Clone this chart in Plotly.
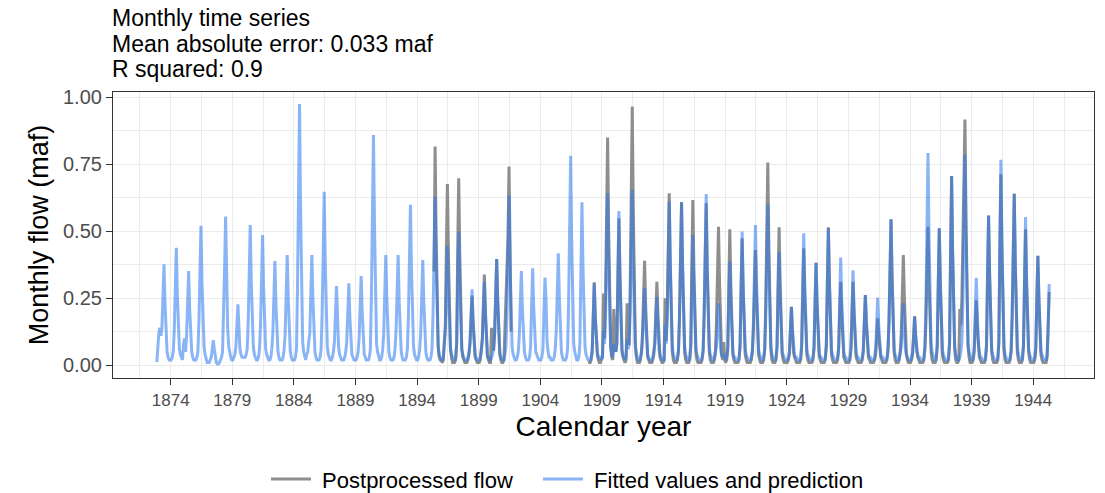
import plotly.graph_objects as go

# ---------------- data (monthly, maf) ----------------
start_year, start_month = 1872, 11   # first month of the series (Nov 1872)

# Fitted values and prediction, one row per calendar year (Jan..Dec)
fitted_flow = [
    0.012, 0.09,                                                                 # 1872 (Nov-Dec)
    0.12, 0.14, 0.11, 0.14, 0.25, 0.377, 0.23, 0.09, 0.05, 0.03, 0.02, 0.02,    # 1873
    0.02, 0.03, 0.05, 0.13, 0.29, 0.439, 0.26, 0.11, 0.06, 0.04, 0.03, 0.02,    # 1874
    0.08, 0.10, 0.05, 0.11, 0.23, 0.352, 0.21, 0.09, 0.05, 0.03, 0.02, 0.02,    # 1875
    0.02, 0.03, 0.05, 0.16, 0.34, 0.521, 0.31, 0.13, 0.07, 0.04, 0.02, 0.01,    # 1876
    0.01, 0.01, 0.02, 0.03, 0.06, 0.094, 0.06, 0.03, 0.01, 0.005, 0.005, 0.01,  # 1877
    0.02, 0.03, 0.05, 0.17, 0.36, 0.555, 0.33, 0.14, 0.07, 0.04, 0.03, 0.02,    # 1878
    0.02, 0.03, 0.04, 0.07, 0.15, 0.228, 0.14, 0.06, 0.04, 0.03, 0.03, 0.03,    # 1879
    0.03, 0.04, 0.06, 0.16, 0.34, 0.524, 0.31, 0.13, 0.07, 0.04, 0.03, 0.02,    # 1880
    0.02, 0.03, 0.06, 0.15, 0.32, 0.486, 0.29, 0.12, 0.06, 0.04, 0.03, 0.02,    # 1881
    0.02, 0.03, 0.06, 0.12, 0.25, 0.389, 0.23, 0.10, 0.05, 0.03, 0.02, 0.02,    # 1882
    0.02, 0.03, 0.06, 0.12, 0.27, 0.412, 0.25, 0.10, 0.05, 0.03, 0.02, 0.02,    # 1883
    0.02, 0.03, 0.06, 0.29, 0.63, 0.975, 0.59, 0.24, 0.09, 0.05, 0.03, 0.02,    # 1884
    0.04, 0.05, 0.09, 0.12, 0.27, 0.412, 0.25, 0.10, 0.05, 0.03, 0.02, 0.02,    # 1885
    0.02, 0.03, 0.06, 0.19, 0.42, 0.648, 0.39, 0.16, 0.07, 0.04, 0.03, 0.02,    # 1886
    0.02, 0.03, 0.05, 0.09, 0.19, 0.296, 0.18, 0.07, 0.04, 0.03, 0.02, 0.02,    # 1887
    0.02, 0.03, 0.05, 0.09, 0.20, 0.306, 0.18, 0.08, 0.04, 0.03, 0.02, 0.02,    # 1888
    0.02, 0.03, 0.05, 0.10, 0.22, 0.333, 0.20, 0.08, 0.04, 0.03, 0.02, 0.02,    # 1889
    0.02, 0.03, 0.06, 0.26, 0.56, 0.860, 0.52, 0.21, 0.08, 0.05, 0.03, 0.02,    # 1890
    0.02, 0.03, 0.06, 0.12, 0.27, 0.412, 0.25, 0.10, 0.05, 0.03, 0.02, 0.02,    # 1891
    0.02, 0.03, 0.06, 0.13, 0.26, 0.412, 0.24, 0.10, 0.05, 0.03, 0.02, 0.02,    # 1892
    0.02, 0.03, 0.06, 0.18, 0.39, 0.599, 0.36, 0.15, 0.07, 0.04, 0.03, 0.02,    # 1893
    0.02, 0.03, 0.06, 0.12, 0.26, 0.393, 0.24, 0.10, 0.05, 0.03, 0.02, 0.02,    # 1894
    0.02, 0.03, 0.06, 0.19, 0.41, 0.630, 0.38, 0.16, 0.07, 0.04, 0.03, 0.02,    # 1895
    0.02, 0.03, 0.08, 0.13, 0.29, 0.445, 0.27, 0.11, 0.06, 0.04, 0.03, 0.02,    # 1896
    0.02, 0.03, 0.08, 0.30, 0.499, 0.30, 0.12, 0.06, 0.04, 0.03, 0.02, 0.02,    # 1897
    0.02, 0.03, 0.05, 0.09, 0.18, 0.284, 0.17, 0.07, 0.04, 0.03, 0.02, 0.02,    # 1898
    0.02, 0.03, 0.05, 0.09, 0.20, 0.312, 0.19, 0.08, 0.04, 0.03, 0.02, 0.02,    # 1899
    0.03, 0.04, 0.06, 0.12, 0.26, 0.397, 0.24, 0.10, 0.05, 0.03, 0.02, 0.02,    # 1900
    0.02, 0.04, 0.07, 0.19, 0.41, 0.636, 0.38, 0.16, 0.07, 0.04, 0.03, 0.02,    # 1901
    0.02, 0.03, 0.05, 0.11, 0.23, 0.352, 0.21, 0.09, 0.05, 0.03, 0.02, 0.02,    # 1902
    0.02, 0.03, 0.07, 0.22, 0.362, 0.22, 0.09, 0.05, 0.04, 0.03, 0.02, 0.02,    # 1903
    0.02, 0.03, 0.06, 0.20, 0.327, 0.25, 0.09, 0.05, 0.03, 0.03, 0.02, 0.02,    # 1904
    0.02, 0.03, 0.06, 0.13, 0.27, 0.418, 0.25, 0.10, 0.05, 0.03, 0.02, 0.02,    # 1905
    0.02, 0.03, 0.06, 0.23, 0.51, 0.782, 0.47, 0.20, 0.08, 0.05, 0.03, 0.02,    # 1906
    0.02, 0.03, 0.08, 0.37, 0.609, 0.37, 0.15, 0.07, 0.04, 0.03, 0.02, 0.02,    # 1907
    0.02, 0.03, 0.06, 0.18, 0.306, 0.18, 0.08, 0.05, 0.03, 0.03, 0.02, 0.03,    # 1908
    0.03, 0.13, 0.08, 0.19, 0.42, 0.642, 0.39, 0.16, 0.07, 0.04, 0.03, 0.08,    # 1909
    0.06, 0.05, 0.08, 0.35, 0.576, 0.35, 0.14, 0.06, 0.04, 0.03, 0.02, 0.03,    # 1910
    0.10, 0.06, 0.08, 0.20, 0.43, 0.655, 0.39, 0.16, 0.07, 0.04, 0.03, 0.02,    # 1911
    0.02, 0.03, 0.05, 0.09, 0.19, 0.287, 0.17, 0.07, 0.04, 0.03, 0.02, 0.02,    # 1912
    0.02, 0.03, 0.05, 0.08, 0.17, 0.256, 0.15, 0.06, 0.04, 0.03, 0.02, 0.02,    # 1913
    0.02, 0.15, 0.08, 0.18, 0.40, 0.611, 0.37, 0.15, 0.07, 0.04, 0.03, 0.02,    # 1914
    0.02, 0.03, 0.06, 0.18, 0.40, 0.609, 0.37, 0.15, 0.07, 0.04, 0.03, 0.02,    # 1915
    0.02, 0.03, 0.08, 0.29, 0.486, 0.29, 0.12, 0.06, 0.04, 0.03, 0.02, 0.02,    # 1916
    0.02, 0.03, 0.06, 0.19, 0.42, 0.639, 0.38, 0.16, 0.07, 0.04, 0.03, 0.02,    # 1917
    0.02, 0.03, 0.05, 0.07, 0.15, 0.231, 0.14, 0.06, 0.04, 0.03, 0.04, 0.03,    # 1918
    0.02, 0.03, 0.07, 0.23, 0.387, 0.23, 0.10, 0.05, 0.03, 0.03, 0.02, 0.02,    # 1919
    0.02, 0.03, 0.08, 0.30, 0.499, 0.30, 0.12, 0.06, 0.04, 0.03, 0.02, 0.02,    # 1920
    0.02, 0.03, 0.06, 0.16, 0.34, 0.524, 0.31, 0.13, 0.06, 0.04, 0.03, 0.02,    # 1921
    0.02, 0.03, 0.06, 0.18, 0.39, 0.599, 0.36, 0.15, 0.07, 0.04, 0.03, 0.02,    # 1922
    0.02, 0.03, 0.07, 0.25, 0.424, 0.25, 0.10, 0.05, 0.04, 0.03, 0.02, 0.02,    # 1923
    0.02, 0.03, 0.05, 0.13, 0.218, 0.13, 0.06, 0.04, 0.03, 0.03, 0.02, 0.02,    # 1924
    0.02, 0.03, 0.08, 0.30, 0.493, 0.30, 0.12, 0.06, 0.04, 0.03, 0.02, 0.02,    # 1925
    0.02, 0.03, 0.07, 0.23, 0.383, 0.23, 0.10, 0.05, 0.03, 0.03, 0.02, 0.02,    # 1926
    0.02, 0.03, 0.08, 0.31, 0.511, 0.31, 0.13, 0.06, 0.04, 0.03, 0.02, 0.02,    # 1927
    0.02, 0.03, 0.07, 0.24, 0.402, 0.24, 0.10, 0.05, 0.03, 0.03, 0.02, 0.02,    # 1928
    0.02, 0.03, 0.07, 0.21, 0.355, 0.21, 0.09, 0.05, 0.03, 0.03, 0.02, 0.02,    # 1929
    0.02, 0.03, 0.06, 0.16, 0.262, 0.16, 0.07, 0.04, 0.03, 0.03, 0.02, 0.02,    # 1930
    0.02, 0.03, 0.06, 0.15, 0.253, 0.15, 0.07, 0.04, 0.03, 0.03, 0.02, 0.02,    # 1931
    0.02, 0.03, 0.06, 0.16, 0.35, 0.545, 0.33, 0.14, 0.06, 0.04, 0.03, 0.02,    # 1932
    0.02, 0.03, 0.05, 0.07, 0.15, 0.231, 0.14, 0.06, 0.04, 0.03, 0.02, 0.02,    # 1933
    0.02, 0.03, 0.05, 0.11, 0.183, 0.11, 0.05, 0.04, 0.03, 0.03, 0.02, 0.02,    # 1934
    0.02, 0.03, 0.07, 0.24, 0.51, 0.792, 0.48, 0.20, 0.08, 0.05, 0.03, 0.02,    # 1935
    0.02, 0.03, 0.08, 0.31, 0.511, 0.31, 0.13, 0.06, 0.04, 0.03, 0.02, 0.02,    # 1936
    0.02, 0.03, 0.09, 0.42, 0.707, 0.42, 0.18, 0.07, 0.04, 0.03, 0.02, 0.02,    # 1937
    0.03, 0.05, 0.09, 0.24, 0.51, 0.786, 0.47, 0.20, 0.08, 0.05, 0.03, 0.02,    # 1938
    0.02, 0.03, 0.07, 0.20, 0.327, 0.20, 0.08, 0.05, 0.03, 0.03, 0.02, 0.02,    # 1939
    0.02, 0.03, 0.08, 0.34, 0.559, 0.34, 0.14, 0.06, 0.04, 0.03, 0.02, 0.02,    # 1940
    0.02, 0.03, 0.09, 0.46, 0.767, 0.46, 0.19, 0.07, 0.04, 0.03, 0.02, 0.02,    # 1941
    0.02, 0.03, 0.06, 0.19, 0.42, 0.640, 0.38, 0.16, 0.07, 0.04, 0.03, 0.02,    # 1942
    0.02, 0.03, 0.08, 0.33, 0.553, 0.33, 0.14, 0.06, 0.04, 0.03, 0.02, 0.02,    # 1943
    0.02, 0.03, 0.07, 0.25, 0.409, 0.25, 0.10, 0.05, 0.04, 0.03, 0.02, 0.02,    # 1944
    0.02, 0.04, 0.12, 0.303,                                                     # 1945 (Jan-Apr)
]

# Postprocessed (observed) flow; None where no record exists
postprocessed_flow = (
    [None] * 2                      # 1872 (Nov-Dec)
    + [None] * (22 * 12)            # 1873-1894
    + [None, None, None, None, 0.35, 0.817, 0.49, 0.20, 0.07, 0.03, 0.02, 0.02]    # 1895
    + [0.01, 0.02, 0.12, 0.15, 0.44, 0.677, 0.41, 0.17, 0.06, 0.03, 0.01, 0.01]    # 1896
    + [0.01, 0.02, 0.08, 0.42, 0.698, 0.42, 0.17, 0.06, 0.03, 0.02, 0.01, 0.01]    # 1897
    + [0.01, 0.02, 0.04, 0.08, 0.17, 0.26, 0.16, 0.06, 0.03, 0.02, 0.01, 0.01]     # 1898
    + [0.01, 0.02, 0.05, 0.10, 0.22, 0.339, 0.20, 0.08, 0.03, 0.02, 0.01, 0.01]    # 1899
    + [0.14, 0.06, 0.06, 0.12, 0.26, 0.397, 0.24, 0.09, 0.04, 0.02, 0.01, 0.01]    # 1900
    + [0.02, 0.13, 0.25, 0.30, 0.48, 0.742, 0.40, 0.125, None, None, None, None]   # 1901
    + [None] * (5 * 12)             # 1902-1906
    + [None] * 10 + [0.01, 0.01]    # 1907
    + [0.01, 0.02, 0.05, 0.18, 0.31, 0.18, 0.07, 0.04, 0.02, 0.01, 0.01, 0.02]     # 1908
    + [0.03, 0.268, 0.10, 0.25, 0.55, 0.850, 0.51, 0.21, 0.07, 0.03, 0.02, 0.21]   # 1909
    + [0.12, 0.05, 0.08, 0.33, 0.549, 0.33, 0.13, 0.05, 0.03, 0.02, 0.01, 0.02]    # 1910
    + [0.231, 0.08, 0.08, 0.29, 0.63, 0.966, 0.58, 0.24, 0.08, 0.03, 0.01, 0.01]   # 1911
    + [0.01, 0.02, 0.05, 0.12, 0.25, 0.390, 0.23, 0.09, 0.03, 0.02, 0.01, 0.01]    # 1912
    + [0.01, 0.02, 0.04, 0.09, 0.20, 0.312, 0.19, 0.07, 0.03, 0.02, 0.01, 0.01]    # 1913
    + [0.02, 0.25, 0.09, 0.19, 0.42, 0.642, 0.39, 0.15, 0.05, 0.02, 0.01, 0.01]    # 1914
    + [0.01, 0.02, 0.05, 0.18, 0.40, 0.609, 0.37, 0.14, 0.05, 0.02, 0.01, 0.01]    # 1915
    + [0.01, 0.02, 0.07, 0.37, 0.617, 0.37, 0.15, 0.05, 0.02, 0.01, 0.01, 0.01]    # 1916
    + [0.01, 0.02, 0.05, 0.18, 0.39, 0.605, 0.36, 0.14, 0.05, 0.02, 0.01, 0.01]    # 1917
    + [0.01, 0.02, 0.05, 0.16, 0.34, 0.517, 0.31, 0.12, 0.04, 0.02, 0.087, 0.02]   # 1918
    + [0.01, 0.02, 0.06, 0.30, 0.508, 0.30, 0.12, 0.04, 0.02, 0.01, 0.01, 0.01]    # 1919
    + [0.01, 0.02, 0.07, 0.28, 0.474, 0.28, 0.11, 0.04, 0.02, 0.01, 0.01, 0.01]    # 1920
    + [0.01, 0.02, 0.05, 0.13, 0.28, 0.430, 0.26, 0.10, 0.04, 0.02, 0.01, 0.01]    # 1921
    + [0.01, 0.02, 0.06, 0.23, 0.49, 0.757, 0.45, 0.18, 0.06, 0.02, 0.01, 0.01]    # 1922
    + [0.01, 0.02, 0.07, 0.31, 0.515, 0.31, 0.12, 0.04, 0.02, 0.01, 0.01, 0.01]    # 1923
    + [0.01, 0.02, 0.04, 0.13, 0.218, 0.13, 0.05, 0.03, 0.02, 0.01, 0.01, 0.01]    # 1924
    + [0.01, 0.02, 0.07, 0.26, 0.437, 0.26, 0.10, 0.04, 0.02, 0.01, 0.01, 0.01]    # 1925
    + [0.01, 0.02, 0.06, 0.23, 0.383, 0.23, 0.09, 0.04, 0.02, 0.01, 0.01, 0.01]    # 1926
    + [0.01, 0.02, 0.07, 0.31, 0.515, 0.31, 0.12, 0.04, 0.02, 0.01, 0.01, 0.01]    # 1927
    + [0.01, 0.02, 0.06, 0.19, 0.312, 0.19, 0.08, 0.03, 0.02, 0.01, 0.01, 0.01]    # 1928
    + [0.01, 0.02, 0.06, 0.19, 0.312, 0.19, 0.08, 0.03, 0.02, 0.01, 0.01, 0.01]    # 1929
    + [0.01, 0.02, 0.05, 0.16, 0.262, 0.16, 0.06, 0.03, 0.02, 0.01, 0.01, 0.01]    # 1930
    + [0.01, 0.02, 0.04, 0.10, 0.175, 0.11, 0.05, 0.03, 0.02, 0.01, 0.01, 0.01]    # 1931
    + [0.01, 0.02, 0.05, 0.16, 0.35, 0.545, 0.33, 0.13, 0.05, 0.02, 0.01, 0.01]    # 1932
    + [0.01, 0.02, 0.05, 0.12, 0.27, 0.412, 0.25, 0.10, 0.04, 0.02, 0.01, 0.01]    # 1933
    + [0.01, 0.02, 0.04, 0.11, 0.183, 0.11, 0.05, 0.03, 0.02, 0.01, 0.01, 0.01]    # 1934
    + [0.01, 0.02, 0.06, 0.16, 0.34, 0.517, 0.31, 0.12, 0.05, 0.02, 0.01, 0.01]    # 1935
    + [0.01, 0.02, 0.07, 0.31, 0.511, 0.31, 0.12, 0.04, 0.02, 0.01, 0.01, 0.01]    # 1936
    + [0.01, 0.02, 0.08, 0.42, 0.707, 0.42, 0.17, 0.06, 0.02, 0.01, 0.01, 0.02]    # 1937
    + [0.21, 0.15, 0.25, 0.437, 0.60, 0.917, 0.55, 0.22, 0.07, 0.03, 0.01, 0.01]   # 1938
    + [0.01, 0.02, 0.05, 0.15, 0.243, 0.15, 0.06, 0.03, 0.02, 0.01, 0.01, 0.01]    # 1939
    + [0.01, 0.02, 0.07, 0.34, 0.559, 0.34, 0.13, 0.05, 0.02, 0.01, 0.01, 0.01]    # 1940
    + [0.01, 0.02, 0.08, 0.43, 0.713, 0.43, 0.17, 0.06, 0.02, 0.01, 0.01, 0.01]    # 1941
    + [0.01, 0.02, 0.05, 0.19, 0.42, 0.640, 0.38, 0.15, 0.05, 0.02, 0.01, 0.01]    # 1942
    + [0.01, 0.02, 0.07, 0.30, 0.508, 0.30, 0.12, 0.05, 0.02, 0.01, 0.01, 0.01]    # 1943
    + [0.01, 0.02, 0.06, 0.25, 0.409, 0.25, 0.10, 0.04, 0.02, 0.01, 0.01, 0.01]    # 1944
    + [0.01, 0.03, 0.15, 0.274]                                                    # 1945 (Jan-Apr)
)

series_names = ["Postprocessed flow", "Fitted values and prediction"]
x_tick_years = [1874, 1879, 1884, 1889, 1894, 1899, 1904, 1909, 1914, 1919, 1924, 1929, 1934, 1939, 1944]
y_tick_values = [0.0, 0.25, 0.5, 0.75, 1.0]
y_tick_labels = ["0.00", "0.25", "0.50", "0.75", "1.00"]

title_lines = ["Monthly time series", "Mean absolute error: 0.033 maf", "R squared: 0.9"]

# ---------------- build time axis (mid-month decimal years) ----------------
n = len(fitted_flow)
decimal_time = []
for i in range(n):
    m0 = start_month - 1 + i
    yr = start_year + m0 // 12
    mo = m0 % 12
    decimal_time.append(yr + (mo + 0.5) / 12.0)

FONT = "Liberation Sans, Arial, sans-serif"
NB = "\u00a0"

fig = go.Figure()
fig.add_trace(go.Scatter(
    x=decimal_time, y=postprocessed_flow, mode="lines",
    name=NB + series_names[0],
    line=dict(color="rgb(142,142,142)", width=3.0),
    connectgaps=False,
    legend="legend",
))
fig.add_trace(go.Scatter(
    x=decimal_time, y=fitted_flow, mode="lines",
    name=NB + series_names[1],
    line=dict(color="rgba(40,120,240,0.55)", width=3.0),
    legend="legend2",
))

minor_x = [1871.5 + 5 * k for k in range(16)]
minor_y = [0.125, 0.375, 0.625, 0.875]

title_y = [1.2570, 1.1680, 1.0790]
annotations = [
    dict(text=t, xref="paper", yref="paper", x=-3 / 981, y=yy, xanchor="left", yanchor="middle",
         showarrow=False, font=dict(size=23, color="black", family=FONT))
    for t, yy in zip(title_lines, title_y)
]

legend_common = dict(
    orientation="h",
    xanchor="left", xref="container",
    yref="container", y=0.028, yanchor="middle",
    font=dict(size=22, color="black", family=FONT),
    itemwidth=40,
    bgcolor="rgba(0,0,0,0)",
)

fig.update_layout(
    width=1105, height=493,
    margin=dict(l=113, r=11, t=92, b=115),
    paper_bgcolor="white", plot_bgcolor="white",
    font=dict(family=FONT, color="black"),
    annotations=annotations,
    showlegend=True,
    legend=dict(x=266 / 1105, **legend_common),
    legend2=dict(x=538 / 1105, **legend_common),
)

fig.update_xaxes(
    range=[1869.32, 1948.93],
    tickmode="array", tickvals=x_tick_years, ticktext=[str(v) for v in x_tick_years],
    ticks="outside", ticklen=6, tickwidth=1.2, tickcolor="#333333",
    tickfont=dict(size=17, color="#4D4D4D", family=FONT),
    showline=True, linecolor="#333333", linewidth=1.2, mirror=True,
    showgrid=True, gridcolor="#EBEBEB", gridwidth=1.2,
    minor=dict(tickmode="array", tickvals=minor_x, showgrid=True, gridcolor="#EBEBEB", gridwidth=0.7, ticks=""),
    zeroline=False,
    title=dict(text="Calendar year", font=dict(size=28, color="black", family=FONT), standoff=7),
)
fig.update_yaxes(
    range=[-0.0475, 1.0202],
    tickmode="array", tickvals=y_tick_values, ticktext=y_tick_labels,
    ticks="outside", ticklen=6, tickwidth=1.2, tickcolor="#333333",
    tickfont=dict(size=20, color="#4D4D4D", family=FONT),
    showline=True, linecolor="#333333", linewidth=1.2, mirror=True,
    showgrid=True, gridcolor="#EBEBEB", gridwidth=1.2,
    minor=dict(tickmode="array", tickvals=minor_y, showgrid=True, gridcolor="#EBEBEB", gridwidth=0.7, ticks=""),
    zeroline=False,
    title=dict(text="Monthly flow (maf)", font=dict(size=27, color="black", family=FONT), standoff=6),
)

fig.write_html("out.html")
